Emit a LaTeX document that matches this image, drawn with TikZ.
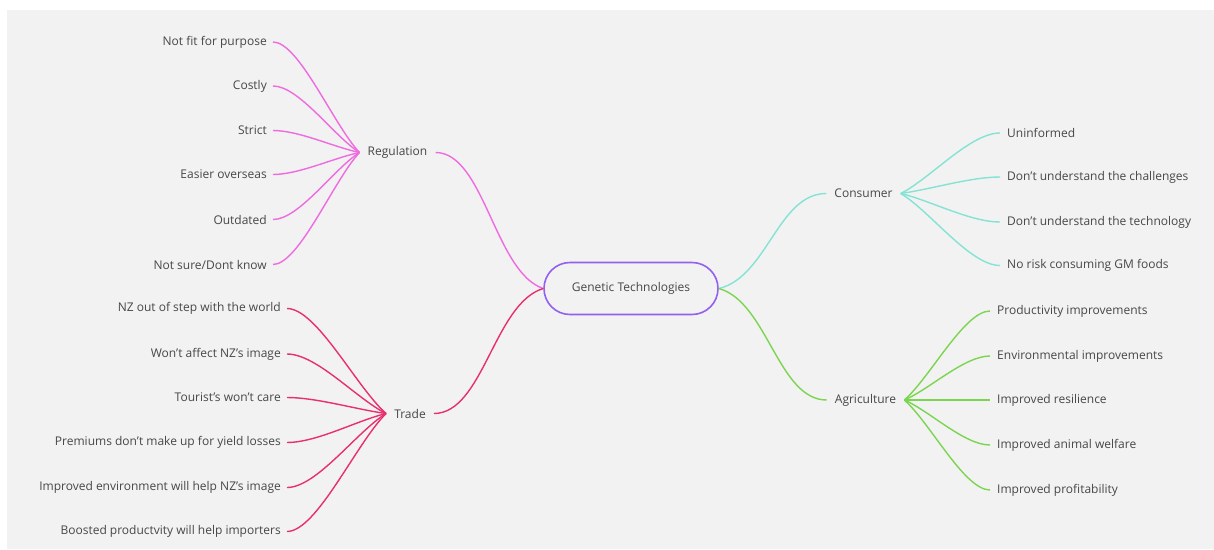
\documentclass[tikz,border=0pt]{standalone}
\usepackage{fontspec}
\setmainfont{Open Sans}
\usetikzlibrary{calc}
\definecolor{bgc}{HTML}{F2F2F2}
\definecolor{txt}{HTML}{474747}
\definecolor{regc}{HTML}{EF6BE0}
\definecolor{tradec}{HTML}{E9306F}
\definecolor{consc}{HTML}{84E3D3}
\definecolor{agric}{HTML}{7CD550}
\definecolor{centc}{HTML}{9360F0}
\tikzset{
  conn/.style n args={4}{to path={let \p1=(\tikztostart),\p2=(\tikztotarget) in
      .. controls ({\x1+#1*(\x2-\x1)},{\y1+#2*(\y2-\y1)}) and ({\x2-#3*(\x2-\x1)},{\y2-#4*(\y2-\y1)}) .. (\tikztotarget)}},
  mainlink/.style={conn={0.45}{0.12}{0.45}{0}},
  fanlink/.style={conn={0.3}{0.25}{0.3}{0}},
  leafL/.style={anchor=east, inner xsep=6pt, inner ysep=2pt, text=txt},
  leafR/.style={anchor=west, inner xsep=7pt, inner ysep=2pt, text=txt},
  topic/.style={inner xsep=8pt, inner ysep=2pt, text=txt},
  centre/.style={draw=centc, line width=1.6pt, rounded corners=26pt, minimum width=174pt, minimum height=52pt, text=txt},
  edge/.style={line width=1.4pt}
}
\begin{document}
\begin{tikzpicture}[x=1pt,y=-1pt,font=\fontsize{12}{14}\selectfont]
\useasboundingbox (0,0) rectangle (1214,549);
\fill[bgc] (7,10) rectangle (1214,549);

\node[centre] (gt) at (631,288.5) {Genetic Technologies};

\node[topic] (reg) at (397.5,152.5) {Regulation};
\node[topic] (trade) at (410,413.5) {Trade};
\node[topic] (cons) at (863.5,193.5) {Consumer};
\node[topic] (agri) at (865.5,400) {Agriculture};

\node[leafL] (r1) at (273,42) {Not fit for purpose};
\node[leafL] (r2) at (273,86) {Costly};
\node[leafL] (r3) at (273,130.5) {Strict};
\node[leafL] (r4) at (273,174.5) {Easier overseas};
\node[leafL] (r5) at (273,219.5) {Outdated};
\node[leafL] (r6) at (273,264.5) {Not sure/Dont know};

\node[leafL] (t1) at (287,308.5) {NZ out of step with the world};
\node[leafL] (t2) at (287,354) {Won't affect NZ's image};
\node[leafL] (t3) at (287,397.5) {Tourist's won't care};
\node[leafL] (t4) at (287,442.5) {Premiums don't make up for yield losses};
\node[leafL] (t5) at (287,487.5) {Improved environment will help NZ's image};
\node[leafL] (t6) at (287,531.5) {Boosted productvity will help importers};

\node[leafR] (c1) at (1000,133) {Uninformed};
\node[leafR] (c2) at (1000,177) {Don't understand the challenges};
\node[leafR] (c3) at (1000,222) {Don't understand the technology};
\node[leafR] (c4) at (1000,265.5) {No risk consuming GM foods};

\node[leafR] (a1) at (990,311) {Productivity improvements};
\node[leafR] (a2) at (990,356) {Environmental improvements};
\node[leafR] (a3) at (990,400) {Improved resilience};
\node[leafR] (a4) at (990,445) {Improved animal welfare};
\node[leafR] (a5) at (990,490) {Improved profitability};

\draw[edge,regc] (gt.west) to[mainlink] (reg.east);
\draw[edge,tradec] (gt.west) to[mainlink] (trade.east);
\draw[edge,consc] (gt.east) to[mainlink] (cons.west);
\draw[edge,agric] (gt.east) to[mainlink] (agri.west);

\foreach \k in {r1,r2,r3,r4,r5,r6}
  \draw[edge,regc] (reg.west) to[fanlink] (\k.east);
\foreach \k in {t1,t2,t3,t4,t5,t6}
  \draw[edge,tradec] (trade.west) to[fanlink] (\k.east);
\foreach \k in {c1,c2,c3,c4}
  \draw[edge,consc] (cons.east) to[fanlink] (\k.west);
\foreach \k in {a1,a2,a3,a4,a5}
  \draw[edge,agric] (agri.east) to[fanlink] (\k.west);
\end{tikzpicture}
\end{document}
